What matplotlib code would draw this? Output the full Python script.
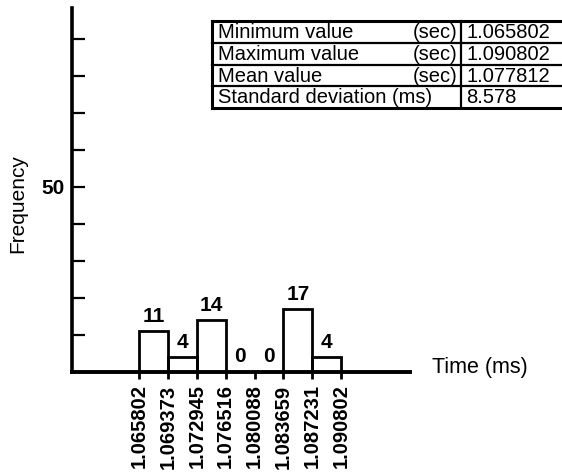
import numpy as np
import matplotlib
matplotlib.use("Agg")
import matplotlib.pyplot as plt
from matplotlib.lines import Line2D

plt.rcParams['font.family'] = ['Liberation Sans', 'DejaVu Sans']

# Histogram bin edges (sec) and counts
bin_edges = [1.065802, 1.069373, 1.072945, 1.076516, 1.080088, 1.083659, 1.087231, 1.090802]
counts = [11, 4, 14, 0, 0, 17, 4]
tick_labels = ["1.065802", "1.069373", "1.072945", "1.076516",
               "1.080088", "1.083659", "1.087231", "1.090802"]

# Summary statistics table
stat_names = ["Minimum value", "Maximum value", "Mean value", "Standard deviation"]
stat_units = ["(sec)", "(sec)", "(sec)", "(ms)"]
stat_values = ["1.065802", "1.090802", "1.077812", "8.578"]

W, H = 562, 476
fig = plt.figure(figsize=(W / 100, H / 100), dpi=100)

ax_left, ax_right, ax_top, ax_bottom = 72, 410, 8, 372
ax = fig.add_axes([ax_left / W, 1 - ax_bottom / H,
                   (ax_right - ax_left) / W, (ax_bottom - ax_top) / H])

edges = np.array(bin_edges)
widths = np.diff(edges)
bw = widths.mean()
px_per_bin = 28.9
ax.set_xlim(edges[0] - (139 - ax_left) / px_per_bin * bw,
            edges[0] + (ax_right - 139) / px_per_bin * bw)
ax.set_ylim(0, (ax_bottom - ax_top) / 3.7)

ax.bar(edges[:-1], counts, width=widths, align='edge',
       fill=False, edgecolor='black', linewidth=2.0, zorder=3)

for x0, w, c in zip(edges[:-1], widths, counts):
    ax.annotate(str(c), (x0 + w / 2, c), xytext=(0, 4), textcoords='offset points',
                ha='center', va='bottom', fontsize=15, fontweight='bold')

for s in ['top', 'right']:
    ax.spines[s].set_visible(False)
ax.spines['left'].set_linewidth(2.6)
ax.spines['bottom'].set_linewidth(2.8)

ax.set_xticks(edges)
ax.set_xticklabels(tick_labels, rotation=90, fontsize=14.5, fontweight='bold')
ax.tick_params(axis='x', direction='out', length=5, width=2, pad=4)

yt = np.arange(10, 100, 10)
ax.set_yticks(yt)
ax.set_yticklabels(["50" if v == 50 else "" for v in yt], fontsize=15, fontweight='bold')
ax.tick_params(axis='y', direction='in', length=9, width=1.6, pad=5)

fig.text(18 / W, 1 - 204 / H, "Frequency", rotation=90, ha='center', va='center', fontsize=15)
fig.text(432 / W, 1 - 367 / H, "Time (ms)", ha='left', va='center', fontsize=15.5)

# Statistics box
t_left, t_div, t_right = 212, 461, 566
rows_y = [21, 43, 65, 86, 108]

def fx(px):
    return px / W

def fy(py):
    return 1 - py / H

for i, yy in enumerate(rows_y):
    lw = 2.2 if i in (0, len(rows_y) - 1) else 1.6
    fig.add_artist(Line2D([fx(t_left), fx(t_right)], [fy(yy), fy(yy)],
                          color='black', linewidth=lw))
for xx, lw in [(t_left, 2.2), (t_div, 1.6)]:
    fig.add_artist(Line2D([fx(xx), fx(xx)], [fy(rows_y[0]), fy(rows_y[-1])],
                          color='black', linewidth=lw))

tfs = 14.5
for i, (name, unit, val) in enumerate(zip(stat_names, stat_units, stat_values)):
    yc = (rows_y[i] + rows_y[i + 1]) / 2 + 0.5
    if unit == "(ms)":
        fig.text(fx(218), fy(yc), f"{name} {unit}", ha='left', va='center', fontsize=tfs)
    else:
        fig.text(fx(218), fy(yc), name, ha='left', va='center', fontsize=tfs)
        fig.text(fx(457), fy(yc), unit, ha='right', va='center', fontsize=tfs)
    fig.text(fx(466), fy(yc), val, ha='left', va='center', fontsize=tfs)

fig.savefig("out.png", dpi=100)
